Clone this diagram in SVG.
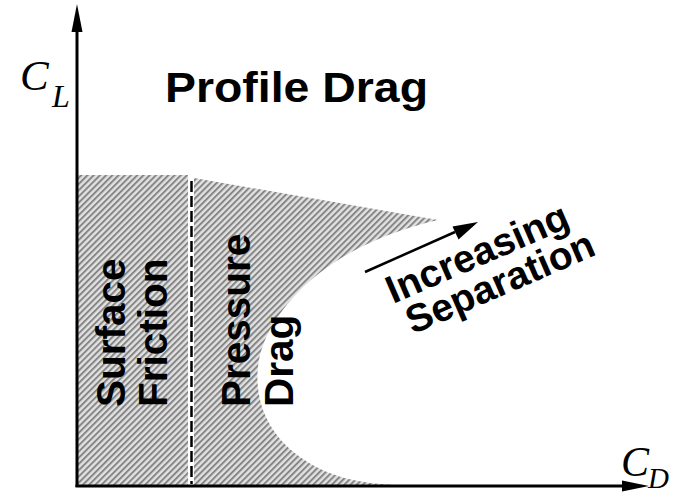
<svg xmlns="http://www.w3.org/2000/svg" width="679" height="497" viewBox="0 0 679 497">
<style>
.lbl{font-family:"Liberation Sans",Arial,sans-serif;font-weight:bold;fill:#000}
.sym{font-family:"Liberation Serif","Times New Roman",serif;font-style:italic;fill:#000}
.axis{stroke:#000;stroke-width:3;fill:none}
</style>
<defs>
<pattern id="hatch" width="4.4" height="10" patternUnits="userSpaceOnUse" patternTransform="rotate(45)">
<rect width="4.4" height="10" fill="#e2e2e2"/>
<rect width="2" height="10" fill="#868686"/>
</pattern>
</defs>
<g id="regions">
<rect id="friction-region" x="77" y="175" width="111" height="310" fill="url(#hatch)"/>
<path id="pressure-region" d="M194,178 L438,220 C350,240 290,285 265,340 C250,375 255,425 300,457 C330,478 360,483 393,485 L194,485 Z" fill="url(#hatch)"/>
</g>
<g id="connectors">
<line x1="191.5" y1="181" x2="191.5" y2="484" stroke="#000" stroke-width="2.5" stroke-dasharray="11,4"/>
<line class="axis" x1="77" y1="487" x2="77" y2="30"/>
<path d="M77,4 L71.5,32 L82.5,32 Z" fill="#000"/>
<line class="axis" x1="75.5" y1="486" x2="625" y2="486"/>
<path d="M649,486 L622,480.5 L622,491.5 Z" fill="#000"/>
<line x1="365" y1="272" x2="455" y2="232" stroke="#000" stroke-width="2.5"/>
<path d="M478,222 L452.5,226.5 L458.5,239.5 Z" fill="#000"/>
</g>
<g id="axis-labels">
<text class="sym" x="20" y="90" font-size="43">C</text>
<text class="sym" x="52" y="107" font-size="32">L</text>
<text class="sym" x="621" y="476" font-size="42">C</text>
<text class="sym" x="648" y="488" font-size="29">D</text>
</g>
<g id="title">
<text class="lbl" x="165" y="102" font-size="43" textLength="263" lengthAdjust="spacingAndGlyphs">Profile Drag</text>
</g>
<g id="surface-friction" class="lbl" font-size="40.5">
<text transform="translate(125,407) rotate(-90)">Surface</text>
<text transform="translate(167,407) rotate(-90)">Friction</text>
</g>
<g id="pressure-drag" class="lbl" font-size="40.5">
<text transform="translate(250,407) rotate(-90)">Pressure</text>
<text transform="translate(293,407) rotate(-90)">Drag</text>
</g>
<g id="increasing-separation" class="lbl" font-size="39" transform="translate(393,304) rotate(-23.5)">
<text x="0" y="0">Increasing</text>
<text x="6" y="36">Separation</text>
</g>
</svg>
